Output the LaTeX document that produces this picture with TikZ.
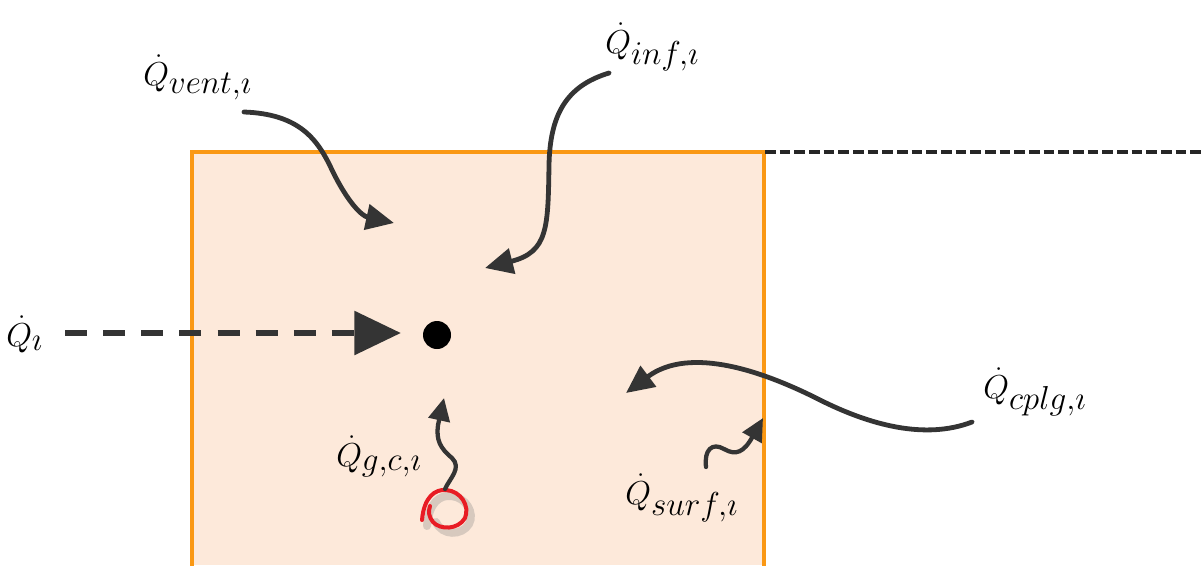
\documentclass[tikz,border=0pt]{standalone}
\usetikzlibrary{arrows.meta}
\DeclareMathSizes{32}{32}{28}{20}
\definecolor{zonefill}{RGB}{253,233,218}
\definecolor{zoneline}{RGB}{250,152,20}
\definecolor{arrowgray}{RGB}{52,52,52}
\definecolor{loopred}{RGB}{232,28,36}
\begin{document}
\begin{tikzpicture}[x=0.75pt,y=-0.75pt,
  lbl/.style={font=\fontsize{32}{38}\selectfont, inner sep=0pt, anchor=base west},
  flow/.style={draw=arrowgray, line width=3.6pt, line cap=round, -{Triangle[length=21pt,width=19pt]}},
  wave/.style={draw=arrowgray, line width=3.2pt, line cap=round, -{Triangle[length=17pt,width=16pt]}}]
\useasboundingbox (0,0) rectangle (1201,565);
\clip (0,0) rectangle (1201,565);
% zone
\fill[zonefill] (192,152) rectangle (764,565);
\draw[zoneline, line width=2.6pt] (192,570) -- (192,152) -- (764,152) -- (764,570);
\draw[black!85, line width=2.4pt, dash pattern=on 8pt off 3pt] (765,152) -- (1201,152);
% labels
\node[lbl] (qvent) at (143,85) {$\dot{Q}_{vent,\imath}$};
\node[lbl] (qinf) at (605,53) {$\dot{Q}_{inf,\imath}$};
\node[lbl] (qi) at (6,346) {$\dot{Q}_{\imath}$};
\node[lbl] (qgc) at (336,466) {$\dot{Q}_{g,c,\imath}$};
\node[lbl] (qsurf) at (625,504) {$\dot{Q}_{surf,\imath}$};
\node[lbl] (qcplg) at (983,398) {$\dot{Q}_{cplg,\imath}$};
% zone air node
\node[circle, fill=black, minimum size=21pt, inner sep=0pt] (zone) at (437,335) {};
% coordinates
\coordinate (ventS) at (244,112);
\coordinate (ventE) at (394,223);
\coordinate (infS) at (609,73);
\coordinate (infE) at (485,268);
\coordinate (cplgS) at (972,422);
\coordinate (cplgE) at (626,393);
\coordinate (qiS) at (65,333);
\coordinate (qiE) at (401,333);
\coordinate (gcS) at (445,489);
\coordinate (gcE) at (444,398);
\coordinate (surfS) at (706,467);
\coordinate (surfE) at (763,418);
% arrows
\draw[arrowgray, line width=5.2pt, dash pattern=on 16.5pt off 12.1pt, -{Triangle[length=35pt,width=32pt]}] (qiS) -- (qiE);
\draw[flow] (ventS) .. controls (300,114) and (318,140) .. (332,170)
  .. controls (348,203) and (362,216) .. (ventE);
\draw[flow] (infS) .. controls (566,86) and (550,115) .. (549,165)
  .. controls (548,228) and (548,252) .. (infE);
\draw[flow] (cplgS) .. controls (925,440) and (870,425) .. (820,400)
  .. controls (765,372) and (690,345) .. (cplgE);
% heat gain source loop
\draw[gray, opacity=0.3, line width=6pt, line cap=round]
  (427,526) .. controls (429,502) and (440,495) .. (451,496)
  .. controls (466,497) and (475,513) .. (469,524)
  .. controls (462,536) and (442,536) .. (436,522);
\draw[loopred, line width=3pt, line cap=round]
  (422,520) .. controls (424,497) and (435,489) .. (446,490)
  .. controls (461,491) and (470,506) .. (465,518)
  .. controls (458,530) and (440,530) .. (433,522)
  .. controls (429,517) and (428,512) .. (430,506);
\draw[wave] (gcS) .. controls (450,478) and (462,468) .. (452,458)
  .. controls (440,448) and (436,440) .. (438,425) -- (gcE);
\draw[wave] (surfS) .. controls (704,450) and (712,442) .. (724,449)
  .. controls (736,456) and (744,452) .. (surfE);
\end{tikzpicture}
\end{document}
